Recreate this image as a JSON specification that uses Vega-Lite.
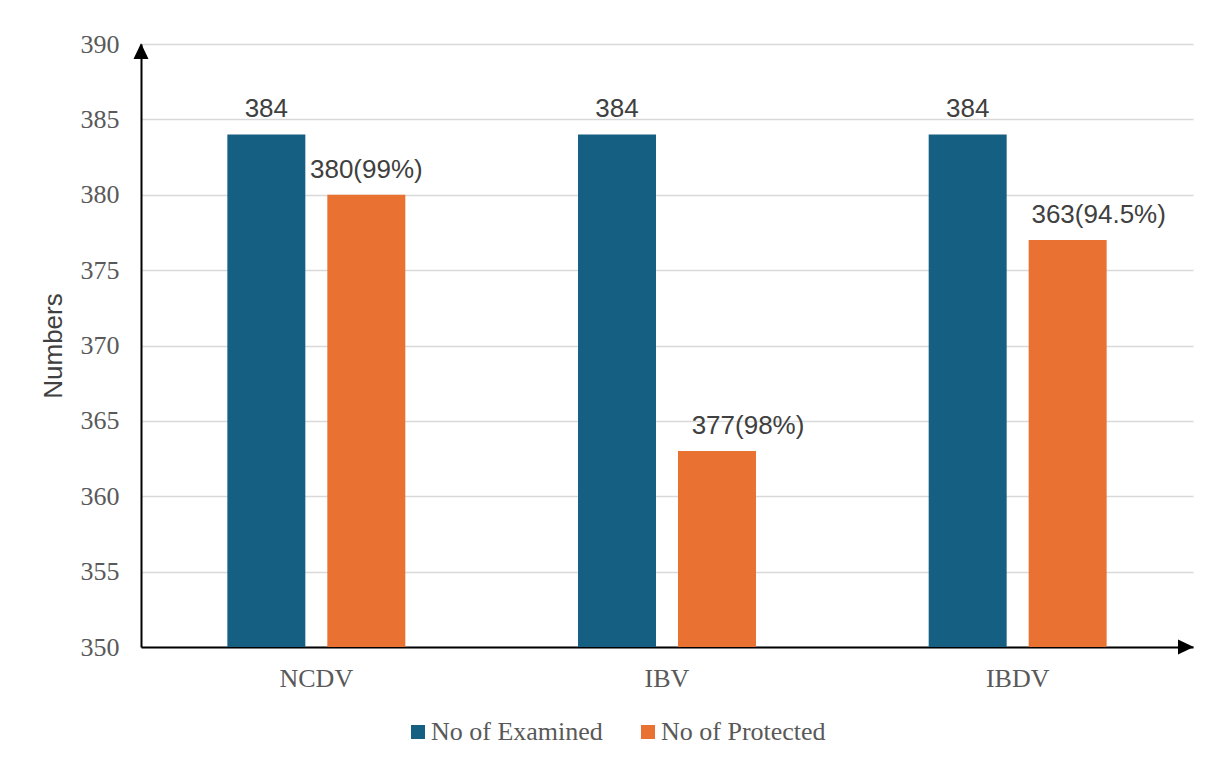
{
  "$schema": "https://vega.github.io/schema/vega-lite/v6.json",
  "width": 1052,
  "height": 603,
  "autosize": {"type": "none"},
  "padding": {"left": 141, "top": 44, "right": 20, "bottom": 118},
  "background": "white",
  "config": {
    "view": {"stroke": null},
    "axis": {"labelFont": "Liberation Serif", "labelFontSize": 26, "labelColor": "#595959", "ticks": false}
  },
  "data": {
    "values": [
      {"virus": "NCDV", "series": "No of Examined", "value": 384, "label": "384"},
      {"virus": "NCDV", "series": "No of Protected", "value": 380, "label": "380(99%)"},
      {"virus": "IBV", "series": "No of Examined", "value": 384, "label": "384"},
      {"virus": "IBV", "series": "No of Protected", "value": 363, "label": "377(98%)"},
      {"virus": "IBDV", "series": "No of Examined", "value": 384, "label": "384"},
      {"virus": "IBDV", "series": "No of Protected", "value": 377, "label": "363(94.5%)"}
    ]
  },
  "layer": [
    {
      "mark": {"type": "bar", "clip": true},
      "encoding": {
        "x": {
          "field": "virus", "type": "nominal", "sort": ["NCDV", "IBV", "IBDV"],
          "scale": {"paddingInner": 0.4925, "paddingOuter": 0.24625},
          "axis": {"title": null, "labelAngle": 0, "labelPadding": 18, "domainColor": "#000000", "domainWidth": 2, "grid": false, "labelFont": "Liberation Serif"}
        },
        "xOffset": {"field": "series", "type": "nominal", "sort": ["No of Examined", "No of Protected"], "scale": {"paddingInner": 0.22, "paddingOuter": 0}},
        "y": {
          "field": "value", "type": "quantitative",
          "scale": {"domain": [350, 390], "nice": false, "zero": false},
          "axis": {
            "title": "Numbers", "titleFont": "Liberation Sans", "titleFontSize": 26, "titleFontWeight": "normal", "titleColor": "#404040", "titlePadding": 14,
            "values": [350, 355, 360, 365, 370, 375, 380, 385, 390], "labelPadding": 22,
            "labelFont": "Liberation Serif", "labelFontSize": 26, "labelColor": "#595959",
            "domainColor": "#000000", "domainWidth": 2, "grid": true, "gridColor": "#d9d9d9", "gridWidth": 1.5
          }
        },
        "y2": {"datum": 350},
        "color": {
          "field": "series", "type": "nominal",
          "scale": {"domain": ["No of Examined", "No of Protected"], "range": ["#156082", "#E97132"]},
          "legend": {
            "title": null, "orient": "none", "direction": "horizontal", "legendX": 264, "legendY": 675,
            "symbolType": "square", "symbolSize": 196, "symbolStrokeWidth": 0, "labelOffset": 0, "columnPadding": 32,
            "labelFont": "Liberation Serif", "labelFontSize": 26, "labelColor": "#595959", "labelLimit": 400
          }
        }
      }
    },
    {
      "transform": [{"filter": "datum.series === 'No of Examined' || datum.virus === 'NCDV'"}],
      "mark": {"type": "text", "font": "Liberation Sans", "fontSize": 26, "color": "#404040", "baseline": "alphabetic", "dy": -17},
      "encoding": {
        "x": {"field": "virus", "type": "nominal", "sort": ["NCDV", "IBV", "IBDV"]},
        "xOffset": {"field": "series", "type": "nominal", "sort": ["No of Examined", "No of Protected"]},
        "y": {"field": "value", "type": "quantitative"},
        "text": {"field": "label"}
      }
    },
    {
      "transform": [{"filter": "datum.series === 'No of Protected' && datum.virus !== 'NCDV'"}],
      "mark": {"type": "text", "font": "Liberation Sans", "fontSize": 26, "color": "#404040", "baseline": "alphabetic", "dy": -17, "dx": 31},
      "encoding": {
        "x": {"field": "virus", "type": "nominal", "sort": ["NCDV", "IBV", "IBDV"]},
        "xOffset": {"field": "series", "type": "nominal", "sort": ["No of Examined", "No of Protected"]},
        "y": {"field": "value", "type": "quantitative"},
        "text": {"field": "label"}
      }
    },
    {
      "data": {"values": [{"axis": "y", "pos": 390}]},
      "mark": {"type": "point", "filled": true, "color": "#000000", "opacity": 1, "size": 225, "shape": "M0,-0.1L-1,2L1,2Z"},
      "encoding": {"x": {"value": 0}, "y": {"field": "pos", "type": "quantitative"}}
    },
    {
      "data": {"values": [{"axis": "x", "pos": 350}]},
      "mark": {"type": "point", "filled": true, "color": "#000000", "opacity": 1, "size": 225, "shape": "M0.1,0L-2,-1L-2,1Z"},
      "encoding": {"x": {"value": 1052}, "y": {"field": "pos", "type": "quantitative"}}
    }
  ]
}
